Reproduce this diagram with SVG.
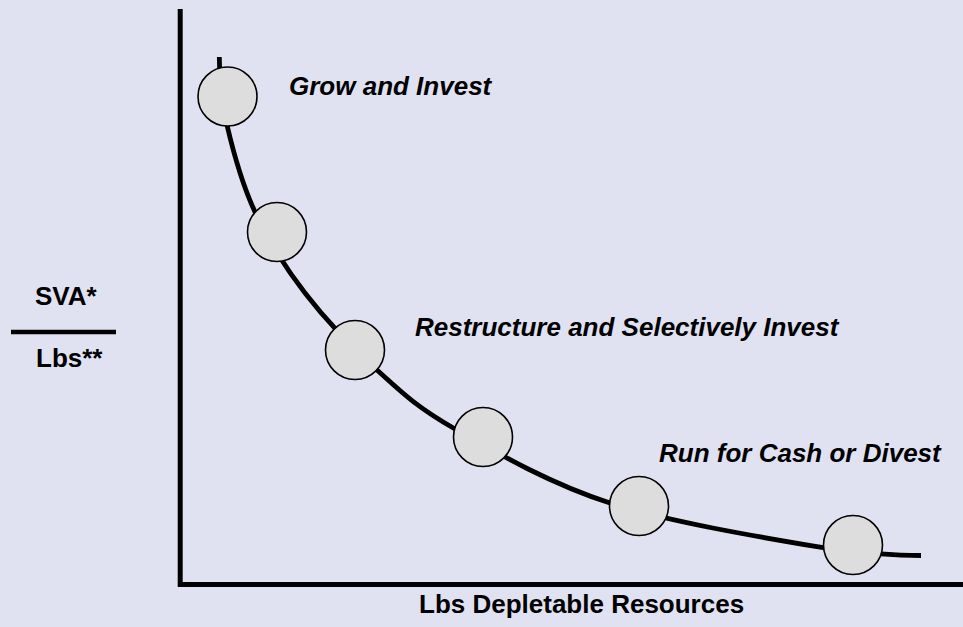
<svg xmlns="http://www.w3.org/2000/svg" width="963" height="627" viewBox="0 0 963 627">
  <style>
    .lbl { font-family: "Liberation Sans", Arial, sans-serif; font-weight: bold; font-size: 26px; fill: #000; }
    .it { font-style: italic; }
    .pt { fill: #DDDDDD; stroke: #000; stroke-width: 1.6; }
    .axis { stroke: #000; stroke-width: 5; fill: none; }
  </style>
  <rect x="0" y="0" width="963" height="627" fill="#E0E2F2"/>
  <g id="axes">
    <line class="axis" x1="180.2" y1="9" x2="180.2" y2="587"/>
    <line class="axis" x1="178" y1="584.5" x2="963" y2="584.5"/>
  </g>
  <g id="connectors">
    <path fill="none" stroke="#000" stroke-width="4.8" d="M219.3,57 C219.3,77 221,99.2 227,125 C233,150.8 242,184 255,212 C268,240 284.7,266.7 305,293 C325.3,319.3 352,347.3 377,370 C402,392.7 416.2,406.8 455,429 C493.8,451.2 548.3,483.2 610,503 C671.7,522.8 773.2,539.3 825,548 C855,553 900,555.5 921,555.5"/>
  </g>
  <g id="point1"><circle class="pt" cx="227.5" cy="96.5" r="29.5"/></g>
  <g id="point2"><circle class="pt" cx="277" cy="232" r="29.5"/></g>
  <g id="point3"><circle class="pt" cx="355" cy="350" r="29.5"/></g>
  <g id="point4"><circle class="pt" cx="483" cy="437" r="29.5"/></g>
  <g id="point5"><circle class="pt" cx="639" cy="506" r="29.5"/></g>
  <g id="point6"><circle class="pt" cx="853" cy="545" r="29.5"/></g>
  <g id="label-grow"><text class="lbl it" x="289" y="95">Grow and Invest</text></g>
  <g id="label-restructure"><text class="lbl it" x="415" y="336">Restructure and Selectively Invest</text></g>
  <g id="label-run"><text class="lbl it" x="659" y="462">Run for Cash or Divest</text></g>
  <g id="y-axis-label">
    <text class="lbl" x="35" y="305">SVA*</text>
    <line x1="11" y1="332" x2="116" y2="332" stroke="#000" stroke-width="4.5"/>
    <text class="lbl" x="36" y="367">Lbs**</text>
  </g>
  <g id="x-axis-label"><text class="lbl" x="419" y="613">Lbs Depletable Resources</text></g>
</svg>
